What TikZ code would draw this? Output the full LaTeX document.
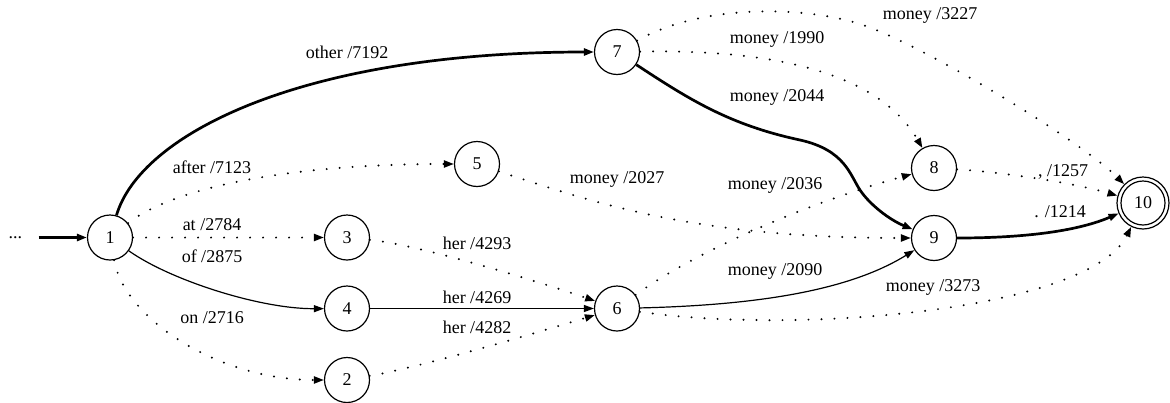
\documentclass[tikz,border=0pt]{standalone}
\usepackage{fontspec}
\setmainfont{Liberation Serif}
\newfontfamily\lblfont{Liberation Serif}
\usetikzlibrary{arrows.meta}
\begin{document}
\begin{tikzpicture}[x=1pt,y=-1pt,
  every node/.style={font=\lblfont\fontsize{18pt}{20pt}\selectfont},
  state/.style={draw, circle, line width=1.2pt, minimum size=45pt, inner sep=0pt},
  lbl/.style={inner sep=0pt},
  arr/.style={-{Triangle[length=10pt,width=7pt]}},
  boldedge/.style={arr, line width=2.7pt},
  plainedge/.style={arr, line width=1.2pt},
  dotedge/.style={arr, line width=2.2pt, line cap=round, dash pattern=on 0pt off 13pt},
]
\useasboundingbox (0,0) rectangle (1170,402);

% states
\node[lbl, minimum width=46pt, minimum height=20pt] (dots) at (15.5,237.5) {...};
\node[state] (n1) at (110,237.5) {1};
\node[state] (n3) at (347,237.5) {3};
\node[state] (n4) at (347,308.5) {4};
\node[state] (n2) at (347,380) {2};
\node[state] (n5) at (477,164) {5};
\node[state] (n7) at (617,52) {7};
\node[state] (n6) at (617,308.5) {6};
\node[state] (n8) at (934,168) {8};
\node[state] (n9) at (934,238) {9};
\node[state, minimum size=52pt] (n10) at (1143,203) {10};
\draw[line width=1.2pt] (n10.center) circle (22pt);

% labels
\node[lbl] (l17) at (347,52) {other /7192};
\node[lbl] (l15) at (212,167) {after /7123};
\node[lbl] (l13) at (212,225) {at /2784};
\node[lbl] (l14) at (212,256) {of /2875};
\node[lbl] (l12) at (212,318) {on /2716};
\node[lbl] (l36) at (477,243) {her /4293};
\node[lbl] (l46) at (477,297) {her /4269};
\node[lbl] (l26) at (477,327) {her /4282};
\node[lbl] (l59) at (617,179) {money /2027};
\node[lbl] (l710) at (930,15) {money /3227};
\node[lbl] (l78) at (777,39) {money /1990};
\node[lbl] (l79) at (777,97) {money /2044};
\node[lbl] (l68) at (775,185) {money /2036};
\node[lbl] (l69) at (775,271) {money /2090};
\node[lbl] (l610) at (933,287) {money /3273};
\node[lbl] (l810) at (1063,172) {, /1257};
\node[lbl] (l910) at (1060,212) {. /1214};

% edges
\draw[boldedge] (dots) -- (n1);
\draw[boldedge] (n1) .. controls (140,135) and (300,52) .. (n7);
\draw[dotedge] (n1) .. controls (170,190) and (280,164) .. (n5);
\draw[dotedge] (n1) -- (n3);
\draw[plainedge] (n1) .. controls (170,280) and (260,309) .. (n4);
\draw[dotedge] (n1) .. controls (125,320) and (220,380) .. (n2);
\draw[dotedge] (n3) .. controls (420,245) and (540,282) .. (n6);
\draw[plainedge] (n4) -- (n6);
\draw[dotedge] (n2) .. controls (430,365) and (545,330) .. (n6);
\draw[dotedge] (n5) .. controls (600,205) and (700,238) .. (n9);
\draw[dotedge] (n7) .. controls (780,49) and (880,75) .. (n8);
\draw[dotedge] (n7) .. controls (700,5) and (800,5) .. (860,24) .. controls (920,43) and (1080,140) .. (n10);
\draw[boldedge] (n7) .. controls (690,100) and (730,125) .. (800,140) .. controls (845,150) and (850,175) .. (860,190) .. controls (870,205) and (890,220) .. (n9);
\draw[dotedge] (n6) .. controls (690,255) and (800,205) .. (n8);
\draw[plainedge] (n6) .. controls (760,305) and (850,290) .. (n9);
\draw[dotedge] (n6) .. controls (800,335) and (1090,310) .. (n10);
\draw[dotedge] (n8) .. controls (1000,172) and (1070,182) .. (n10);
\draw[boldedge] (n9) .. controls (1030,238) and (1080,230) .. (n10);
\end{tikzpicture}
\end{document}
